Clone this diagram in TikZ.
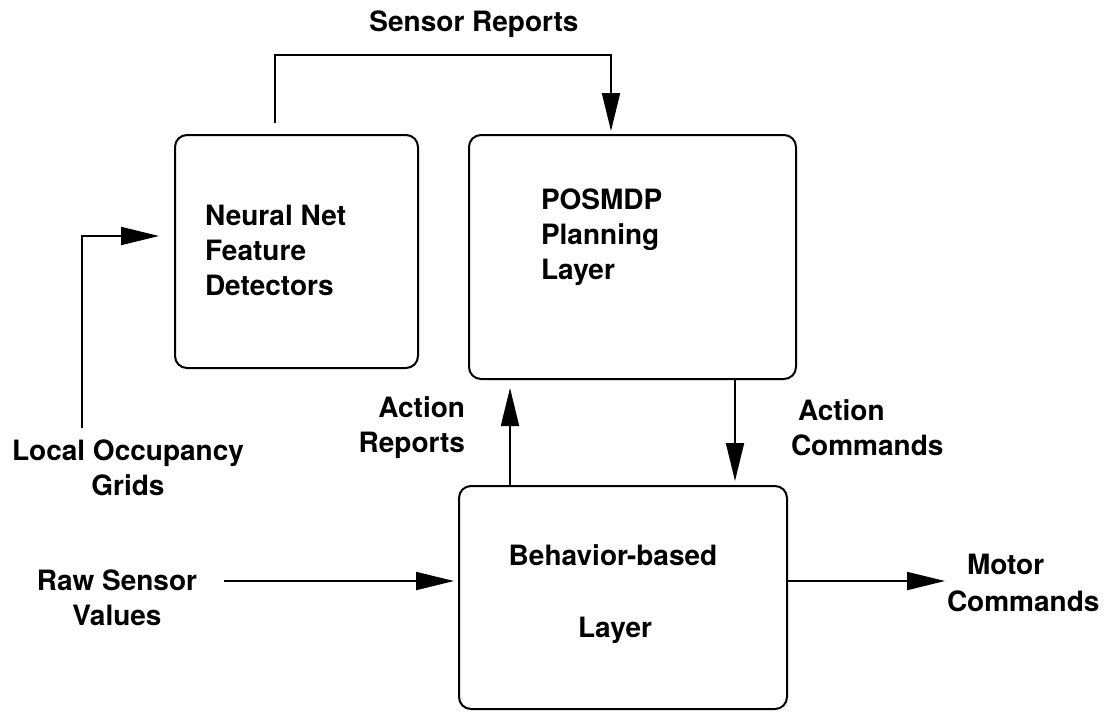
\documentclass[tikz,border=0pt]{standalone}
\usepackage{fontspec}
\setmainfont{TeX Gyre Heros}
\usetikzlibrary{arrows.meta}
\begin{document}
\begin{tikzpicture}[x=1pt,y=-1pt,
  line width=2pt,
  box/.style={draw, rounded corners=12pt, inner sep=0pt},
  lbl/.style={font=\bfseries\fontsize{28}{35}\selectfont, inner sep=0pt},
  arr/.style={-{Triangle[length=38pt,width=18pt]}}]
\useasboundingbox (0,0) rectangle (1108,713);

% the three layers
\node[box, anchor=north west, minimum width=243pt, minimum height=233pt] (nn) at (174,134) {};
\node[box, anchor=north west, minimum width=327pt, minimum height=244pt] (pp) at (468,134) {};
\node[box, anchor=north west, minimum width=328pt, minimum height=223pt] (bb) at (458,485) {};

% box texts
\node[lbl, align=left, anchor=west] (nnt) at (204,250) {Neural Net\\Feature\\Detectors};
\node[lbl, align=left, anchor=west] (ppt) at (540,237) {POSMDP\\Planning\\Layer};
\node[lbl] (bbt1) at (613,555) {Behavior-based};
\node[lbl] (bbt2) at (615,630) {Layer};

% outer labels
\node[lbl] (srt) at (474,24) {Sensor Reports};
\node[lbl, align=center] (lot) at (128,468) {Local Occupancy\\Grids};
\node[lbl, align=center] (rst) at (117,598) {Raw Sensor\\Values};
\node[lbl, align=left, anchor=west] (mct) at (946,583) {\hspace{20pt}Motor\\[2pt]Commands};
\node[lbl, align=right, anchor=east] (art) at (466,428) {Action\\Reports};
\node[lbl, align=left, anchor=west] (act) at (790,428) {\hspace{7pt}Action\\Commands};

% connector end points
\coordinate (s1) at (275,123);
\coordinate (s2) at (275,55);
\coordinate (s3) at (611,55);
\coordinate (s4) at (611,131);
\coordinate (o1) at (82,428);
\coordinate (o2) at (82,236);
\coordinate (o3) at (159,236);
\coordinate (ar1) at (510,485);
\coordinate (ar2) at (510,388);
\coordinate (ac1) at (735,378);
\coordinate (ac2) at (735,481);
\coordinate (r1) at (224,581);
\coordinate (r2) at (454,581);
\coordinate (m1) at (786,581);
\coordinate (m2) at (945,581);

% connectors
\draw[arr] (s1) -- (s2) -- (s3) -- (s4);
\draw[arr] (o1) -- (o2) -- (o3);
\draw[arr] (ar1) -- (ar2);
\draw[arr] (ac1) -- (ac2);
\draw[arr] (r1) -- (r2);
\draw[arr] (m1) -- (m2);
\end{tikzpicture}
\end{document}
